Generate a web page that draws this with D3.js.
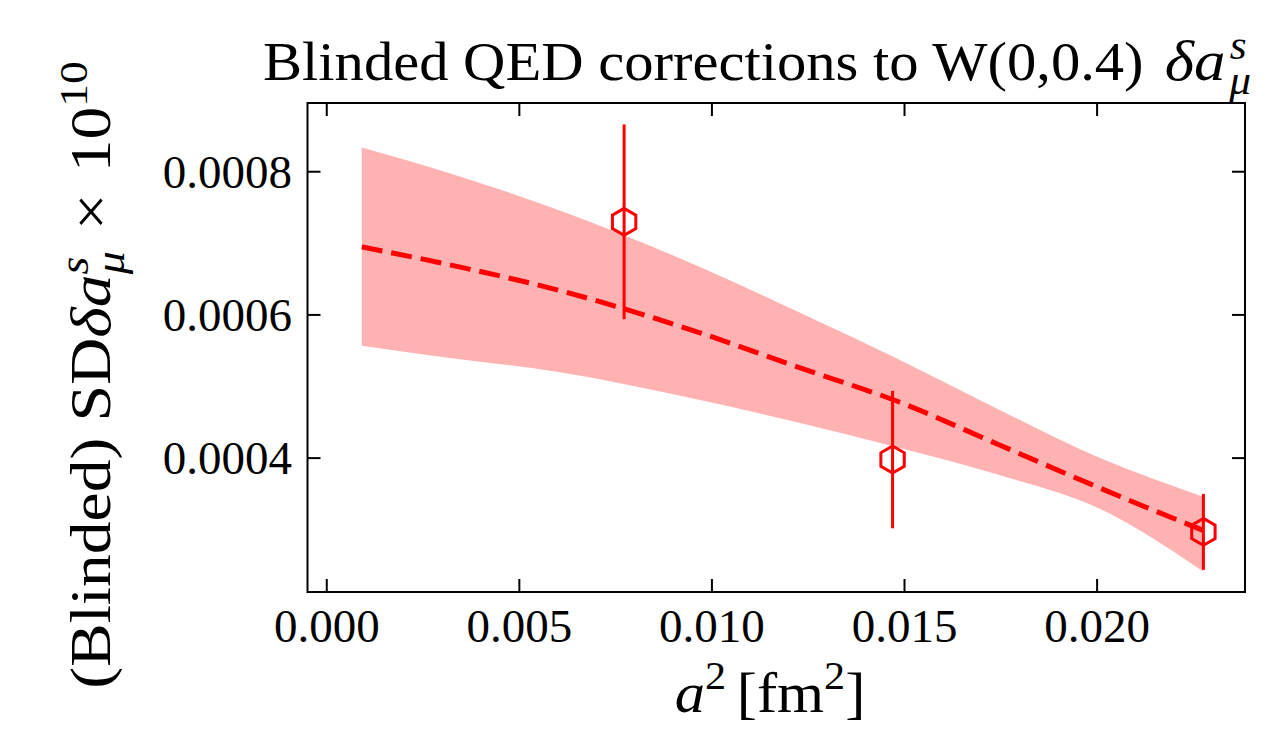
<!DOCTYPE html>
<html>
<head>
<meta charset="utf-8">
<script src="https://d3js.org/d3.v7.min.js"></script>
<style>
  body { margin: 0; background: white; }
  svg text { font-family: "Liberation Serif", "Times New Roman", serif; fill: black; }
</style>
</head>
<body>
<div id="chart"></div>
<script>
  // lattice points: a^2 [fm^2], value, error
  const a2 = [0.00772, 0.01469, 0.02276];
  const vals = [0.000730, 0.000398, 0.000297];
  const errs = [0.000136, 0.000096, 0.000053];

  // fit curve and its band
  const fitA2 = [0.00091, 0.00319, 0.00605, 0.00969, 0.01229, 0.01488, 0.01748, 0.02008, 0.02275];
  const fitMid = [0.000695, 0.000670, 0.000634, 0.000575, 0.000526, 0.000478, 0.000418, 0.000358, 0.000299];
  const fitHi = [0.000834, 0.000798, 0.000746, 0.000667, 0.000603, 0.000537, 0.000467, 0.000400, 0.000346];
  const fitLo = [0.000557, 0.000540, 0.000520, 0.000481, 0.000449, 0.000414, 0.000376, 0.000329, 0.000242];

  const xTicks = [0, 0.005, 0.01, 0.015, 0.02];
  const yTicks = [0.0004, 0.0006, 0.0008];

  const W = 1272, H = 737;
  const mLeft = 307.5, mRight = 1245, mTop = 103, mBottom = 592;

  const svg = d3.select("#chart").append("svg")
      .attr("width", W).attr("height", H);

  const x = d3.scaleLinear().domain([-0.0005, 0.02384]).range([mLeft, mRight]);
  const y = d3.scaleLinear().domain([0.000213, 0.000896]).range([mBottom, mTop]);

  const red = "#ff0000";

  // band
  const band = fitA2.map((d, i) => ({ x: d, lo: fitLo[i], hi: fitHi[i], mid: fitMid[i] }));
  svg.append("path")
      .datum(band)
      .attr("fill", red)
      .attr("fill-opacity", 0.3)
      .attr("d", d3.area().curve(d3.curveMonotoneX)
          .x(d => x(d.x)).y0(d => y(d.lo)).y1(d => y(d.hi)));

  svg.append("path")
      .datum(band)
      .attr("fill", "none")
      .attr("stroke", red)
      .attr("stroke-width", 5)
      .attr("stroke-dasharray", "21,9")
      .attr("d", d3.line().curve(d3.curveMonotoneX).x(d => x(d.x)).y(d => y(d.mid)));

  // error bars + open hexagons
  const pts = a2.map((d, i) => ({ x: d, v: vals[i], e: errs[i] }));
  svg.selectAll(".eb").data(pts).enter().append("line")
      .attr("x1", d => x(d.x)).attr("x2", d => x(d.x))
      .attr("y1", d => y(d.v - d.e)).attr("y2", d => y(d.v + d.e))
      .attr("stroke", red).attr("stroke-width", 3);

  const r = 13.5;
  const hex = d3.range(6).map(k => {
    const ang = -Math.PI / 2 + k * Math.PI / 3;
    return [r * Math.cos(ang), r * Math.sin(ang)];
  });
  svg.selectAll(".mk").data(pts).enter().append("path")
      .attr("transform", d => `translate(${x(d.x)},${y(d.v)})`)
      .attr("d", "M" + hex.join("L") + "Z")
      .attr("fill", "none").attr("stroke", red).attr("stroke-width", 3);

  // frame
  svg.append("rect")
      .attr("x", mLeft).attr("y", mTop)
      .attr("width", mRight - mLeft).attr("height", mBottom - mTop)
      .attr("fill", "none").attr("stroke", "black").attr("stroke-width", 2);

  // ticks pointing inwards on all four sides
  const tl = 13;
  xTicks.forEach(t => {
    svg.append("line").attr("x1", x(t)).attr("x2", x(t)).attr("y1", mBottom).attr("y2", mBottom - tl)
        .attr("stroke", "black").attr("stroke-width", 2);
    svg.append("line").attr("x1", x(t)).attr("x2", x(t)).attr("y1", mTop).attr("y2", mTop + tl)
        .attr("stroke", "black").attr("stroke-width", 2);
    svg.append("text").attr("x", x(t)).attr("y", 642)
        .attr("text-anchor", "middle").attr("font-size", 47)
        .text(d3.format(".3f")(t));
  });
  yTicks.forEach(t => {
    svg.append("line").attr("x1", mLeft).attr("x2", mLeft + tl).attr("y1", y(t)).attr("y2", y(t))
        .attr("stroke", "black").attr("stroke-width", 2);
    svg.append("line").attr("x1", mRight).attr("x2", mRight - tl).attr("y1", y(t)).attr("y2", y(t))
        .attr("stroke", "black").attr("stroke-width", 2);
    svg.append("text").attr("x", 292).attr("y", y(t) + 16)
        .attr("text-anchor", "end").attr("font-size", 47)
        .text(d3.format(".4f")(t));
  });

  // title (runs off the right edge like the original)
  const title = svg.append("g").attr("transform", "translate(263,80) scale(1.085,1)")
      .append("text").attr("text-anchor", "start").attr("font-size", 54);
  title.append("tspan").text("Blinded QED corrections to W(0,0.4) ");
  title.append("tspan").attr("font-style", "italic").attr("font-size", 58).attr("dx", 6).text("δa");
  title.append("tspan").attr("font-style", "italic").attr("font-size", 40).attr("dx", 4).attr("dy", -21).text("s");
  title.append("tspan").attr("font-style", "italic").attr("font-size", 40).attr("dx", -16).attr("dy", 35).text("μ");

  // x label
  const xl = svg.append("g").attr("transform", "translate(770,712) scale(1.08,1)")
      .append("text").attr("text-anchor", "middle").attr("font-size", 56);
  xl.append("tspan").attr("font-style", "italic").text("a");
  xl.append("tspan").attr("font-size", 39).attr("dy", -23).text("2");
  xl.append("tspan").attr("dy", 23).attr("dx", 10).text("[fm");
  xl.append("tspan").attr("font-size", 39).attr("dy", -23).text("2");
  xl.append("tspan").attr("dy", 23).text("]");

  // y label
  const yl = svg.append("g").attr("transform", "translate(110,375) rotate(-90) scale(1.17,1)")
      .append("text").attr("text-anchor", "middle").attr("font-size", 56);
  yl.append("tspan").text("(Blinded) SD");
  yl.append("tspan").attr("font-style", "italic").text("δa");
  yl.append("tspan").attr("font-style", "italic").attr("font-size", 39).attr("dy", -22).text("s");
  yl.append("tspan").attr("font-style", "italic").attr("font-size", 39).attr("dx", -15).attr("dy", 36).text("μ");
  yl.append("tspan").attr("dy", -14).attr("dx", 18).text("×");
  yl.append("tspan").attr("dx", 18).text("10");
  yl.append("tspan").attr("font-size", 39).attr("dy", -23).text("10");
</script>
</body>
</html>
